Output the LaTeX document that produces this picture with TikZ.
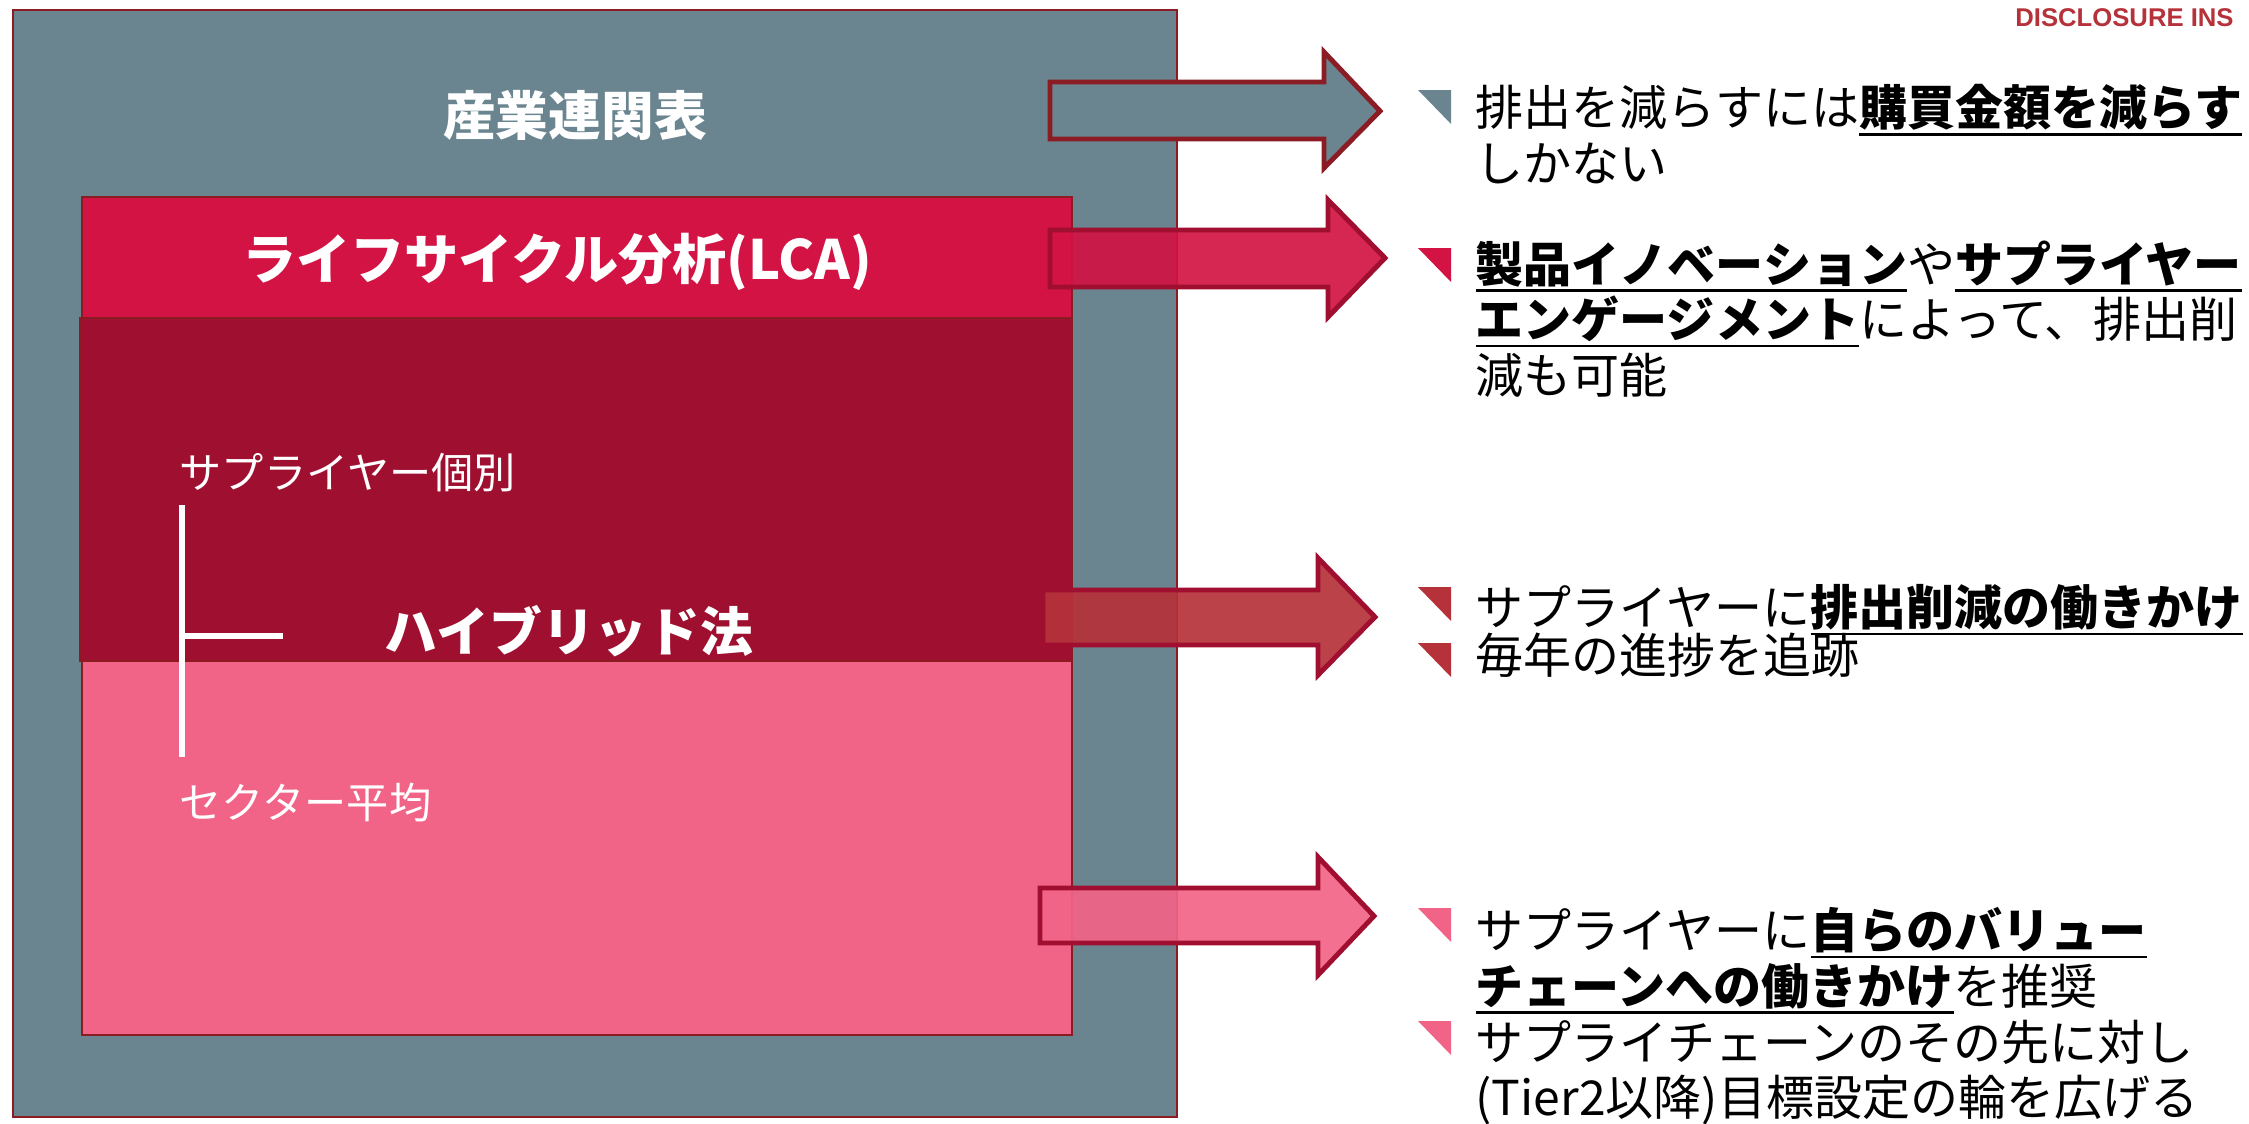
\documentclass[tikz,border=0pt]{standalone}
\usepackage{fontspec}
\setmainfont{Noto Sans CJK JP}
\newfontfamily\brandfont{Liberation Sans}
\usepackage{tikz}
\usetikzlibrary{calc}

\definecolor{iogray}{HTML}{6A8590}
\definecolor{lcared}{HTML}{D21343}
\definecolor{hybred}{HTML}{9E0F30}
\definecolor{secpink}{HTML}{F26487}
\definecolor{edgered}{HTML}{8B1C24}
\definecolor{arrowedge}{HTML}{A00F30}
\definecolor{engred}{HTML}{B5323A}

% bold + underlined key phrase
\newcommand\ulb[1]{\setbox0\hbox{\bfseries #1}\rlap{\rule[-0.2em]{\wd0}{0.06em}}\box0}
% triangle bullet, top-left corner given
\newcommand\tribullet[2]{\fill[#1] (#2) -- ++(33,0) -- ++(0,34) -- cycle;}

\tikzset{
	layer/.style={draw=edgered, line width=0.6pt},
	blockarrow/.style={draw=arrowedge, line width=1.4pt, line join=miter},
	boxlabel/.style={text=white, font=\fontsize{15pt}{18pt}\selectfont\bfseries},
	sublabel/.style={text=white, anchor=west, inner sep=0pt, font=\fontsize{12pt}{14pt}\selectfont},
	bullettext/.style={anchor=north west, align=left, inner sep=0pt, font=\fontsize{13.66pt}{15.8pt}\selectfont},
}

\begin{document}
\begin{tikzpicture}[x=0.01cm, y=-0.01cm]
		\useasboundingbox (0,0) rectangle (2249,1123);
		
		% nested layers
		\fill[iogray, layer] (13,10) rectangle (1177,1117);
		\fill[lcared, layer] (82,197) rectangle (1072,318);
		\fill[hybred, layer] (80,318) rectangle (1072,661);
		\fill[secpink, layer] (82,661) rectangle (1072,1035);
		
		\node[boxlabel] (io) at (575,115) {産業連関表};
		\node[boxlabel, font=\fontsize{15.4pt}{18pt}\selectfont\bfseries] (lca) at (557,262) {ライフサイクル分析(LCA)};
		\node[boxlabel] (hyb) at (569,631) {ハイブリッド法};
		
		\node[sublabel] (sup) at (179,473) {サプライヤー個別};
		\node[sublabel] (sec) at (179,803) {セクター平均};
		\draw[white, line width=1.7pt] (182,505) -- (182,757);
		\draw[white, line width=1.7pt] (182,636) -- (283,636);
		
		% block arrows
		\draw[blockarrow, draw=edgered, fill=iogray] (1050,82) -- (1324,82) -- (1324,52) -- (1380,111) -- (1324,168) -- (1324,139) -- (1050,139) -- cycle;
		\draw[blockarrow, fill=lcared, fill opacity=0.92] (1050,230) -- (1328,230) -- (1328,200) -- (1385,258) -- (1328,317) -- (1328,287) -- (1050,287) -- cycle;
		\draw[blockarrow, fill=engred, fill opacity=0.92] (1043,590) -- (1318,590) -- (1318,558) -- (1375,617) -- (1318,675) -- (1318,645) -- (1043,645) -- cycle;
		\draw[blockarrow, fill=secpink, fill opacity=0.92] (1040,888) -- (1318,888) -- (1318,857) -- (1374,916) -- (1318,975) -- (1318,943) -- (1040,943) -- cycle;
		
		% bullets
		\tribullet{iogray}{1418,90}
		\node[bullettext] (ta) at (1475,84) {排出を減らすには\ulb{購買金額を減らす}\\しかない};
		
		\tribullet{lcared}{1418,248}
		\node[bullettext] (tb) at (1475,240) {\ulb{製品イノベーション}や\ulb{サプライヤー}\\\ulb{エンゲージメント}によって、排出削\\減も可能};
		
		\tribullet{engred}{1418,587}
		\node[bullettext] (tc) at (1475,584) {サプライヤーに\ulb{排出削減の働きかけ}};
		\tribullet{engred}{1418,643}
		\node[bullettext] (td) at (1475,632) {毎年の進捗を追跡};
		
		\tribullet{secpink}{1418,908}
		\node[bullettext] (te) at (1475,907) {サプライヤーに\ulb{自らのバリュー}\\\ulb{チェーンへの働きかけ}を推奨};
		\tribullet{secpink}{1418,1021}
		\node[bullettext] (tf) at (1475,1019) {サプライチェーンのその先に対し\\(Tier2以降)目標設定の輪を広げる};
		
		\node[anchor=east, text=engred, font=\brandfont\fontsize{7.3pt}{8pt}\selectfont\bfseries] (brand) at (2246,18) {DISCLOSURE INS};
	\end{tikzpicture}
\end{document}
